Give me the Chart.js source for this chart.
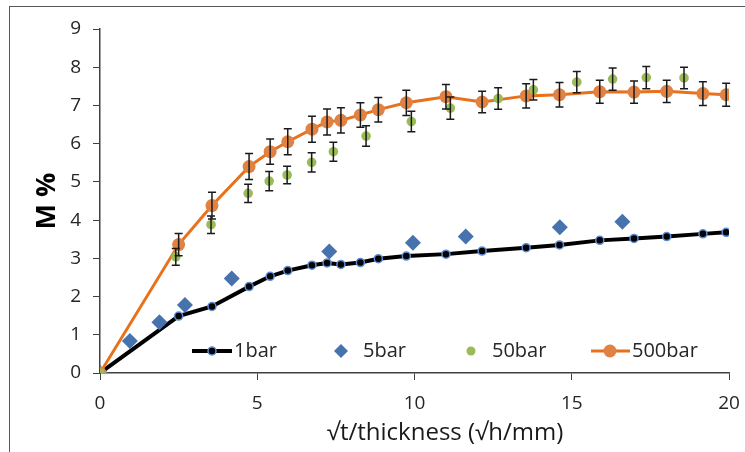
<!DOCTYPE html>
<html>
<head>
<meta charset="utf-8">
<script src="https://cdn.jsdelivr.net/npm/chart.js@4.4.1/dist/chart.umd.min.js"></script>
<style>
    body { margin: 0; background: #fff; }
    #wrap { position: relative; width: 745px; height: 452px; overflow: hidden; }
    #frame { position: absolute; left: 9px; top: 6px; width: 760px; height: 470px;
             border-left: 1px solid #595959; border-top: 1px solid #595959; }
    canvas { position: absolute; left: 0; top: 0; }
</style>
</head>
<body>
<div id="wrap">
    <div id="frame"></div>
    <canvas id="myChart" width="745" height="452"></canvas>
</div>
<script>
// data
const xLine = [0, 2.5, 3.56, 4.74, 5.41, 5.97, 6.74, 7.22, 7.66, 8.28, 8.85, 9.74, 11.0, 12.15, 13.55, 14.61, 15.89, 16.98, 18.02, 19.17, 19.91];
const y1bar = [0, 1.49, 1.74, 2.26, 2.53, 2.68, 2.82, 2.88, 2.84, 2.89, 2.99, 3.06, 3.11, 3.19, 3.28, 3.35, 3.47, 3.52, 3.57, 3.64, 3.68];
const y500bar = [0, 3.36, 4.38, 5.40, 5.79, 6.05, 6.38, 6.57, 6.61, 6.75, 6.89, 7.07, 7.23, 7.09, 7.25, 7.28, 7.36, 7.35, 7.37, 7.31, 7.28];
const err500bar = [0, 0.29, 0.35, 0.34, 0.33, 0.34, 0.34, 0.34, 0.33, 0.32, 0.32, 0.33, 0.32, 0.28, 0.32, 0.32, 0.30, 0.29, 0.29, 0.31, 0.30];

const x5bar = [0, 0.95, 1.89, 2.7, 4.19, 7.29, 9.95, 11.63, 14.62, 16.61];
const y5bar = [0, 0.84, 1.33, 1.78, 2.47, 3.18, 3.41, 3.57, 3.81, 3.96];

const x50bar = [0, 2.41, 3.53, 4.71, 5.38, 5.95, 6.73, 7.42, 8.46, 9.9, 11.14, 12.66, 13.78, 15.16, 16.3, 17.37, 18.57];
const y50bar = [0, 3.04, 3.88, 4.70, 5.02, 5.18, 5.51, 5.79, 6.20, 6.58, 6.93, 7.18, 7.41, 7.61, 7.69, 7.73, 7.72];
const err50bar = [0, 0.22, 0.23, 0.24, 0.25, 0.23, 0.25, 0.25, 0.27, 0.27, 0.29, 0.28, 0.27, 0.28, 0.29, 0.29, 0.28];

const xTicks = [0, 5, 10, 15, 20];
const yTicks = [0, 1, 2, 3, 4, 5, 6, 7, 8, 9];

const FONT = "'Open Sans', sans-serif";
const TEXT = '#262626';

function pts(xs, ys) {
    return xs.map((x, i) => ({ x: x, y: ys[i] }));
}

// error bars drawn through the chart scales
const errorBars = {
    id: 'errorBars',
    afterDatasetsDraw(chart) {
        const c = chart.ctx;
        const xs = chart.scales.x, ys = chart.scales.y;
        c.save();
        c.strokeStyle = '#1a1a1a';
        c.lineWidth = 1.5;
        chart.data.datasets.forEach(ds => {
            if (!ds.errors) return;
            ds.data.forEach((p, i) => {
                const e = ds.errors[i];
                if (!e) return;
                const px = xs.getPixelForValue(p.x);
                const top = ys.getPixelForValue(p.y + e);
                const bot = ys.getPixelForValue(p.y - e);
                c.beginPath();
                c.moveTo(px, top); c.lineTo(px, bot);
                c.moveTo(px - 4, top); c.lineTo(px + 4, top);
                c.moveTo(px - 4, bot); c.lineTo(px + 4, bot);
                c.stroke();
            });
        });
        c.restore();
    }
};

// legend inside plot + axis titles
const extras = {
    id: 'extras',
    afterDraw(chart) {
        const c = chart.ctx;
        const ly = 351;
        c.save();
        c.font = '20px ' + FONT;
        c.fillStyle = TEXT;
        c.textBaseline = 'middle';

        // 1bar
        c.strokeStyle = '#000'; c.lineWidth = 4;
        c.beginPath(); c.moveTo(192, ly); c.lineTo(232, ly); c.stroke();
        c.beginPath(); c.arc(212, ly, 4, 0, Math.PI * 2);
        c.fillStyle = '#000'; c.fill();
        c.strokeStyle = '#5b8ed6'; c.lineWidth = 1.5; c.stroke();
        c.fillStyle = TEXT; c.fillText('1bar', 234, ly);

        // 5bar
        c.fillStyle = '#4672ae';
        c.beginPath(); c.moveTo(341, ly - 7); c.lineTo(348, ly); c.lineTo(341, ly + 7); c.lineTo(334, ly); c.closePath(); c.fill();
        c.fillStyle = TEXT; c.fillText('5bar', 363, ly);

        // 50bar
        c.fillStyle = '#9bbb59';
        c.beginPath(); c.arc(471, ly, 4.5, 0, Math.PI * 2); c.fill();
        c.fillStyle = TEXT; c.fillText('50bar', 492, ly);

        // 500bar
        c.strokeStyle = '#e8711c'; c.lineWidth = 3;
        c.beginPath(); c.moveTo(591, ly); c.lineTo(630, ly); c.stroke();
        c.fillStyle = '#df8243';
        c.beginPath(); c.arc(610, ly, 6.5, 0, Math.PI * 2); c.fill();
        c.fillStyle = TEXT; c.fillText('500bar', 632, ly);

        // x title
        c.font = '24px ' + FONT;
        c.textAlign = 'center';
        c.textBaseline = 'alphabetic';
        c.fillStyle = '#1a1a1a';
        c.fillText('√t/thickness (√h/mm)', 445, 440);

        // y title
        c.translate(47, 201);
        c.rotate(-Math.PI / 2);
        c.font = 'bold 27px ' + FONT;
        c.textBaseline = 'middle';
        c.fillStyle = '#000';
        c.fillText('M %', 0, 0);
        c.restore();
    }
};

const ctx = document.getElementById('myChart').getContext('2d');

new Chart(ctx, {
    type: 'scatter',
    data: {
        datasets: [
            {
                label: '50bar',
                data: pts(x50bar, y50bar),
                errors: err50bar,
                pointStyle: 'circle',
                pointRadius: 4.8,
                pointBackgroundColor: '#9bbb59',
                pointBorderColor: '#9bbb59',
                pointBorderWidth: 0,
                showLine: false,
                order: 1
            },
            {
                label: '500bar',
                data: pts(xLine, y500bar),
                errors: err500bar,
                showLine: true,
                borderColor: '#e8711c',
                borderWidth: 3,
                pointRadius: 6.5,
                pointBackgroundColor: '#df8243',
                pointBorderColor: '#df8243',
                pointBorderWidth: 0,
                order: 2
            },
            {
                label: '5bar',
                data: pts(x5bar, y5bar),
                pointStyle: 'rectRot',
                pointRadius: 8,
                pointBackgroundColor: '#4672ae',
                pointBorderColor: '#4672ae',
                pointBorderWidth: 0,
                showLine: false,
                order: 3
            },
            {
                label: '1bar',
                data: pts(xLine, y1bar),
                showLine: true,
                borderColor: '#000',
                borderWidth: 4,
                pointRadius: 4,
                pointBackgroundColor: '#000',
                pointBorderColor: '#5b8ed6',
                pointBorderWidth: 1.5,
                order: 4
            }
        ]
    },
    options: {
        responsive: false,
        animation: false,
        layout: { padding: { left: 0, right: 16, top: 29, bottom: 0 } },
        plugins: {
            legend: { display: false },
            tooltip: { enabled: false }
        },
        scales: {
            x: {
                type: 'linear',
                min: 0,
                max: 20,
                afterBuildTicks: (s) => { s.ticks = xTicks.map(v => ({ value: v })); },
                afterFit: (s) => { s.height = 79; s.paddingRight = 0; s.paddingLeft = 0; },
                ticks: { color: TEXT, font: { family: FONT, size: 19 }, padding: 12 },
                grid: { drawOnChartArea: false, drawTicks: true, tickLength: 7, color: '#404040' },
                border: { color: '#404040', width: 1.5 }
            },
            y: {
                type: 'linear',
                min: 0,
                max: 9,
                afterBuildTicks: (s) => { s.ticks = yTicks.map(v => ({ value: v })); },
                afterFit: (s) => { s.width = 100; s.paddingTop = 0; s.paddingBottom = 0; },
                ticks: { color: TEXT, font: { family: FONT, size: 19 }, padding: 12 },
                grid: { drawOnChartArea: false, drawTicks: true, tickLength: 7, color: '#404040' },
                border: { color: '#404040', width: 1.5 }
            }
        }
    },
    plugins: [errorBars, extras]
});
</script>
</body>
</html>
